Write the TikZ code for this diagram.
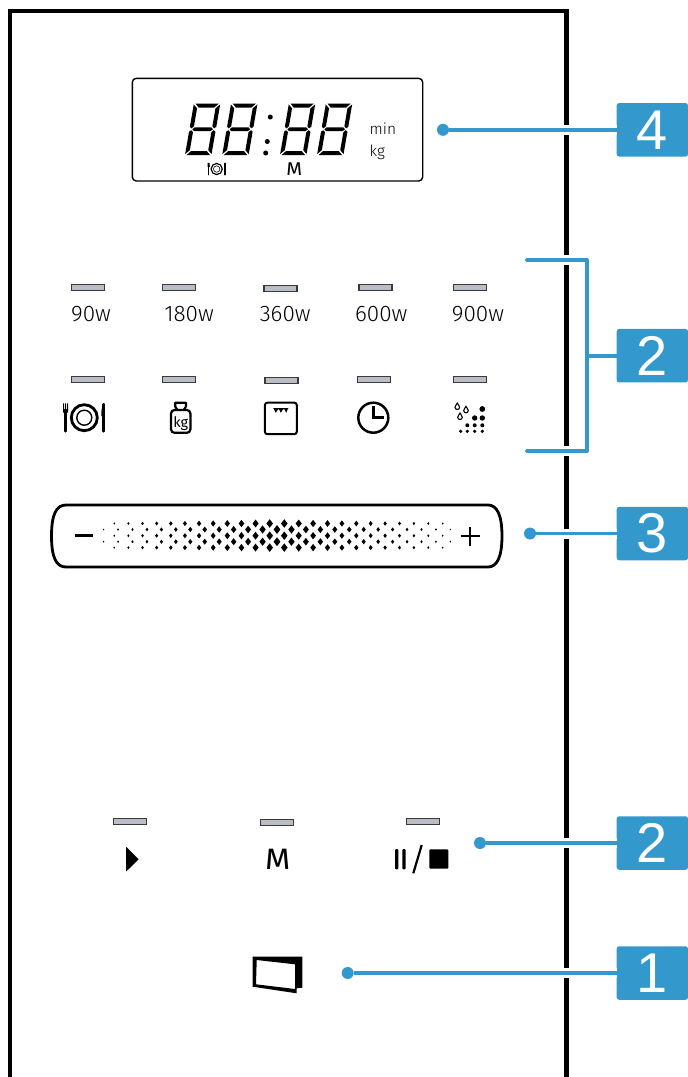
\documentclass[tikz,border=0pt]{standalone}
\usepackage{fontspec}
\setmainfont{Fira Sans}[UprightFont=* Light]
\newfontfamily\regfont{Fira Sans}
\newfontfamily\badgefont{Liberation Sans}
\definecolor{callblue}{HTML}{3399CC}
\definecolor{ledfill}{HTML}{B9BDC5}
\definecolor{ledline}{HTML}{3A3A3A}
\tikzset{
  frameline/.style={line width=4.5pt,black},
  halo/.style={line width=10pt,white},
  conn/.style={line width=3.8pt,callblue},
  pin/.style={circle,fill=callblue,minimum size=12pt,inner sep=0pt},
  badge/.style={fill=callblue,rounded corners=2.5pt,minimum width=71.3pt,minimum height=53.5pt,inner sep=0pt,text=white,font=\badgefont\fontsize{56}{56}\selectfont},
  led/.style={draw=ledline,fill=ledfill,line width=1.3pt,minimum width=33pt,minimum height=6pt,inner sep=0pt},
  power/.style={anchor=base,inner sep=0pt,font=\fontsize{22.5}{22.5}\selectfont},
  unit/.style={anchor=base west,inner sep=0pt,font=\fontsize{15.5}{15.5}\selectfont},
  icon/.style={line width=2.5pt,black},
}
% seven segment digit, origin bottom left
\newcommand{\lcddigit}[1]{%
 \begin{scope}[x=1pt,y=1pt,cm={1,0,0.173,1,(#1pt,-155pt)}]
  \fill (1.6,51.5)--(25,51.5)--(21,47.5)--(5.4,47.5)--cycle;
  \fill (1.6,0)--(25,0)--(21,4)--(5.4,4)--cycle;
  \fill (0,50.6)--(4,46.6)--(4,28.7)--(1.9,26.7)--(0,28.2)--cycle;
  \fill (26.4,50.6)--(22.4,46.6)--(22.4,28.7)--(24.5,26.7)--(26.4,28.2)--cycle;
  \fill (0,0.9)--(4,4.9)--(4,22.8)--(1.9,24.8)--(0,23.3)--cycle;
  \fill (26.4,0.9)--(22.4,4.9)--(22.4,22.8)--(24.5,24.8)--(26.4,23.3)--cycle;
  \fill (2.9,25.75)--(5,27.7)--(21.4,27.7)--(23.5,25.75)--(21.4,23.8)--(5,23.8)--cycle;
 \end{scope}}
% plate icon
\newcommand{\plateicon}[3]{%
 \begin{scope}[shift={(#1,#2)},x=#3pt,y=-#3pt]
  \def\sc{#3}
  \draw[line width=\sc*2.8pt] (0,0) circle[radius=\sc*13pt];
  \draw[line width=\sc*1.4pt] (0,0) circle[radius=\sc*7.5pt];
  \draw[line width=\sc*2.6pt,line cap=round] (-18.6,-8) -- (-18.6,13.6);
  \fill (-21.1,-14.4) rectangle (-20.1,-7) (-19.1,-14.4) rectangle (-18.1,-7) (-17.1,-14.4) rectangle (-16.1,-7) (-21.1,-8) rectangle (-16.1,-5);
  \draw[line width=\sc*2.6pt,line cap=round] (19.2,-13.5) -- (19.2,13.6);
  \fill (20.4,-14.4) .. controls (17.5,-13) and (16.8,-7) .. (17,-1.5) -- (20.4,-1.5) -- cycle;
 \end{scope}}
\newcommand{\dropicon}[2]{%
 \draw[line width=1.1pt] (#1,#2-3.6) .. controls (#1+.6,#2-2) and (#1+2.3,#2-1) .. (#1+2.3,#2+.6) .. controls (#1+2.3,#2+3.5) and (#1-2.3,#2+3.5) .. (#1-2.3,#2+.6) .. controls (#1-2.3,#2-1) and (#1-.6,#2-2) .. cycle;}
\newcommand{\sliderdot}[2]{%
 \pgfmathsetmacro{\tt}{max(0,1-abs(#1-277)/178)}%
 \pgfmathsetmacro{\dw}{0.65+2.75*\tt}%
 \pgfmathsetmacro{\dh}{\dw*1.3}%
 \fill (#1-\dw,#2) -- (#1,#2-\dh) -- (#1+\dw,#2) -- (#1,#2+\dh) -- cycle;}
\begin{document}
\begin{tikzpicture}[x=1pt,y=-1pt]
\useasboundingbox (0,0) rectangle (688,1077);
\fill[white] (0,0) rectangle (688,1077);
% housing
\draw[frameline] (10,1077) -- (10,11) -- (566.7,11) -- (566.7,1077);
% display
\draw[line width=1.4pt,rounded corners=4pt] (132.3,78.3) rectangle (422.7,181);
\lcddigit{185}\lcddigit{222.2}\lcddigit{280}\lcddigit{317}
\fill (270.3,117) circle[radius=2.5pt] (267.3,141.5) circle[radius=2.5pt] (265.7,153) circle[radius=2.5pt];
\node[unit] (tmin) at (369.5,134) {min};
\node[unit] (tkg) at (369.5,156) {kg};
\plateicon{216.7}{169}{0.43}
\node[anchor=base,inner sep=0pt,xscale=1.1,font=\regfont\fontsize{18.5}{18.5}\selectfont] (tm) at (294.2,175) {M};
% power row
\node[led] (l1) at (87.7,287.2) {};
\node[led] (l2) at (178.9,287.2) {};
\node[led] (l3) at (280.5,288.2) {};
\node[led] (l4) at (375.5,287.2) {};
\node[led] (l5) at (469.9,287.2) {};
\node[power] (p90) at (91,321) {90w};
\node[power] (p180) at (189,321) {180w};
\node[power] (p360) at (285.2,321) {360w};
\node[power] (p600) at (381.3,321) {600w};
\node[power] (p900) at (478,321) {900w};
% function row
\node[led] (f1) at (88,379.4) {};
\node[led] (f2) at (179,379.4) {};
\node[led] (f3) at (281.5,380.4) {};
\node[led] (f4) at (374.3,379.4) {};
\node[led] (f5) at (469.9,379.4) {};
\plateicon{84.3}{417.7}{1}
% weight
\draw[line width=2.2pt,line join=round] (177,409.5) -- (175.2,406.5) -- (175.2,402.8) -- (186,402.8) -- (186,406.5) -- (184,409.5);
\draw[line width=2.2pt,rounded corners=3.5pt] (171,410) rectangle (190.4,432.8);
\node[anchor=base,inner sep=0pt,font=\regfont\fontsize{14.5}{14.5}\selectfont] (tkgi) at (180.7,427.3) {kg};
% oven
\draw[line width=2pt,rounded corners=2.5pt] (264.9,402.6) rectangle (296.8,434.2);
\fill (273.3,408.2) -- (288.4,408.2) -- (287.6,409.4) -- (286.2,412.8) -- (284.6,409.4) -- (283,409.4) -- (280.9,412.8) -- (279,409.4) -- (278,409.4) -- (275.8,412.8) -- (274,409.4) -- cycle;
% clock
\draw[icon] (373.3,417.7) circle[radius=15pt];
\draw[icon] (373.3,406) -- (373.3,417.7) -- (383.5,417.7);
% steam
\dropicon{457.3}{406.7}\dropicon{466}{410}\dropicon{460}{416.7}
\fill (482.3,409) circle[radius=2.9pt];
\fill (474.7,418) circle[radius=2.7pt] (482.3,418) circle[radius=2.7pt];
\fill (467.3,425.3) circle[radius=2pt] (474.7,425.3) circle[radius=2pt] (482.3,425.3) circle[radius=2pt];
\fill (460.7,431.3) circle[radius=1.8pt] (467.3,431.3) circle[radius=1.8pt] (474.7,431.3) circle[radius=1.8pt] (482.3,431.3) circle[radius=1.8pt];
% slider
\draw[line width=2.8pt] (66,505) -- (488,505) .. controls (497,505) and (502,515) .. (502,536) .. controls (502,557) and (497,567) .. (488,567) -- (66,567) .. controls (56,567) and (51.5,557) .. (51.5,536) .. controls (51.5,515) and (56,505) .. cycle;
\draw[line width=2.8pt] (75,535.7) -- (93.3,535.7);
\draw[line width=2.8pt] (460.5,536) -- (479.5,536) (470,526.5) -- (470,545.5);
\foreach \k in {-12,...,12}{%
  \pgfmathsetmacro{\px}{277+14.45*\k}%
  \sliderdot{\px}{529.5}\sliderdot{\px}{541.7}}
\foreach \k in {0,...,11}{%
  \pgfmathsetmacro{\px}{284.3+14.4*\k}%
  \sliderdot{\px}{523.5}\sliderdot{\px}{535.7}\sliderdot{\px}{547.6}
  \pgfmathsetmacro{\px}{269.7-14.13*\k}%
  \sliderdot{\px}{523.5}\sliderdot{\px}{535.7}\sliderdot{\px}{547.6}}
% lower row
\node[led] (s1) at (129.7,821.7) {};
\node[led] (s2) at (276.7,822.7) {};
\node[led] (s3) at (423.3,821.7) {};
\fill (126,846.7) -- (138.7,859.2) -- (126,871.7) -- cycle;
\node[anchor=base,inner sep=0pt,xscale=1.1,font=\regfont\fontsize{29.5}{29.5}\selectfont] (tmm) at (277.7,869) {M};
\fill[rounded corners=1pt] (395,849) rectangle (398.4,869.3) (402.3,849) rectangle (405.7,869.3);
\draw[line width=2.2pt] (421.7,845) -- (413.3,873.3);
\fill[rounded corners=1pt] (429.3,849.3) rectangle (448.3,868.7);
% door
\fill[even odd rule] (252.7,956.7) -- (302.3,956.7) -- (302.3,987.7) -- (296.7,988.3) -- (296.7,993.3) -- (252.7,986.7) -- cycle
 (256.7,960) -- (295,964.3) -- (295,989) -- (256,984.3) -- cycle;
% callouts
\node[badge] (b4) at (652.35,129.8) {4};
\node[badge] (b2a) at (652.35,355.7) {2};
\node[badge] (b3) at (652.35,533.5) {3};
\node[badge] (b2b) at (652.35,843) {2};
\node[badge] (b1) at (652.35,973) {1};
\node[pin] (d4) at (443,129.8) {};
\node[pin] (d3) at (530,533.5) {};
\node[pin] (d2) at (480,843) {};
\node[pin] (d1) at (347.7,973) {};
\coordinate (bt) at (527,260);
\coordinate (bb) at (527,451);
\coordinate (ct) at (586.7,260);
\coordinate (cb) at (586.7,451);
\coordinate (cm) at (586.7,355.7);
\foreach \a/\c in {d4/b4,d3/b3,d2/b2b,d1/b1}{
  \draw[halo] (\a) -- (\c);
  \draw[conn] (\a) -- (\c);}
\draw[halo] (bt) -- (ct);
\draw[halo] (bb) -- (cb);
\draw[conn,line cap=round,line join=round] (bt) -- (ct) -- (cb) -- (bb);
\draw[conn] (cm) -- (b2a);
\end{tikzpicture}
\end{document}
